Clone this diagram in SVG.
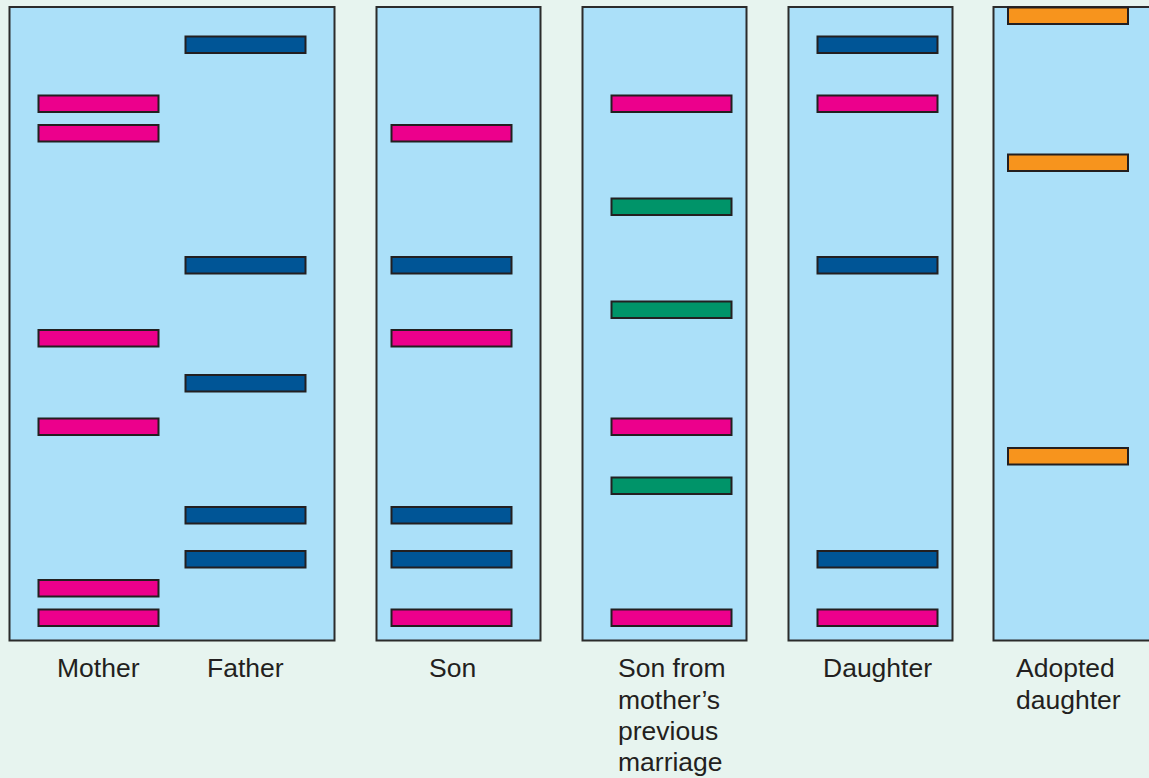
<svg xmlns="http://www.w3.org/2000/svg" width="1149" height="778" viewBox="0 0 1149 778">
<style>
.bg{fill:#E7F4EF}
.lane{fill:#ABE0F9;stroke:#2B2B2B;stroke-width:2}
.b{stroke:#231F20;stroke-width:2}
.p{fill:#EC008C}
.d{fill:#005596}
.g{fill:#009469}
.o{fill:#F7941D}
.lbl{font-family:"Liberation Sans",Arial,sans-serif;font-size:26.5px;fill:#231F20}
</style>
<rect class="bg" x="0" y="0" width="1149" height="778"/>
<g id="lane-parents">
<rect class="lane" x="9.5" y="7" width="325" height="633.5"/>
<g id="mother-bands">
<rect class="b p" x="38.5" y="95.5" width="120" height="16.5"/>
<rect class="b p" x="38.5" y="125" width="120" height="16.5"/>
<rect class="b p" x="38.5" y="330" width="120" height="16.5"/>
<rect class="b p" x="38.5" y="418.5" width="120" height="16.5"/>
<rect class="b p" x="38.5" y="580" width="120" height="16.5"/>
<rect class="b p" x="38.5" y="609.5" width="120" height="16.5"/>
</g>
<g id="father-bands">
<rect class="b d" x="185.5" y="36.5" width="120" height="16.5"/>
<rect class="b d" x="185.5" y="257" width="120" height="16.5"/>
<rect class="b d" x="185.5" y="375" width="120" height="16.5"/>
<rect class="b d" x="185.5" y="507" width="120" height="16.5"/>
<rect class="b d" x="185.5" y="551" width="120" height="16.5"/>
</g>
<text class="lbl" x="57" y="677">Mother</text>
<text class="lbl" x="207" y="677">Father</text>
</g>
<g id="lane-son">
<rect class="lane" x="376.5" y="7" width="164" height="633.5"/>
<rect class="b p" x="391.5" y="125" width="120" height="16.5"/>
<rect class="b d" x="391.5" y="257" width="120" height="16.5"/>
<rect class="b p" x="391.5" y="330" width="120" height="16.5"/>
<rect class="b d" x="391.5" y="507" width="120" height="16.5"/>
<rect class="b d" x="391.5" y="551" width="120" height="16.5"/>
<rect class="b p" x="391.5" y="609.5" width="120" height="16.5"/>
<text class="lbl" x="429" y="677">Son</text>
</g>
<g id="lane-stepson">
<rect class="lane" x="582.5" y="7" width="164" height="633.5"/>
<rect class="b p" x="611.5" y="95.5" width="120" height="16.5"/>
<rect class="b g" x="611.5" y="198.5" width="120" height="16.5"/>
<rect class="b g" x="611.5" y="301.5" width="120" height="16.5"/>
<rect class="b p" x="611.5" y="418.5" width="120" height="16.5"/>
<rect class="b g" x="611.5" y="477.5" width="120" height="16.5"/>
<rect class="b p" x="611.5" y="609.5" width="120" height="16.5"/>
<text class="lbl" x="618" y="677">Son from</text>
<text class="lbl" x="618" y="708.5">mother’s</text>
<text class="lbl" x="618" y="740">previous</text>
<text class="lbl" x="618" y="771">marriage</text>
</g>
<g id="lane-daughter">
<rect class="lane" x="788.5" y="7" width="164" height="633.5"/>
<rect class="b d" x="817.5" y="36.5" width="120" height="16.5"/>
<rect class="b p" x="817.5" y="95.5" width="120" height="16.5"/>
<rect class="b d" x="817.5" y="257" width="120" height="16.5"/>
<rect class="b d" x="817.5" y="551" width="120" height="16.5"/>
<rect class="b p" x="817.5" y="609.5" width="120" height="16.5"/>
<text class="lbl" x="823" y="677">Daughter</text>
</g>
<g id="lane-adopted">
<rect class="lane" x="993.5" y="7" width="170" height="633.5"/>
<rect class="b o" x="1008" y="7.5" width="120" height="16.5"/>
<rect class="b o" x="1008" y="154.5" width="120" height="16.5"/>
<rect class="b o" x="1008" y="448" width="120" height="16.5"/>
<text class="lbl" x="1016" y="677">Adopted</text>
<text class="lbl" x="1016" y="708.5">daughter</text>
</g>
<g id="connectors"/>
</svg>
